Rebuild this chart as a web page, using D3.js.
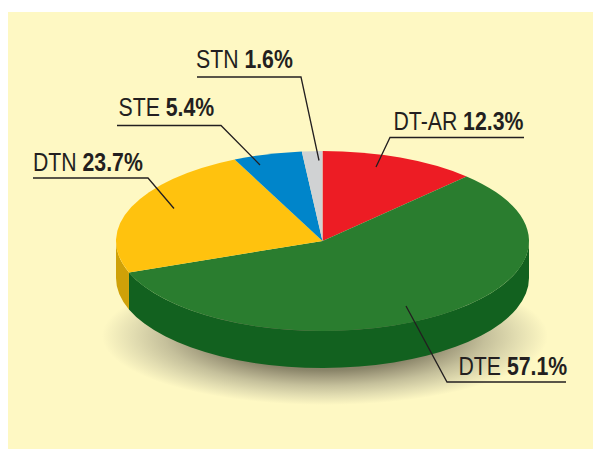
<!DOCTYPE html>
<html><head><meta charset="utf-8">
<style>html,body{margin:0;padding:0;background:#fff}svg{display:block}text{font-family:"Liberation Sans",sans-serif;fill:#231f20;font-size:25px}</style>
<script src="https://cdnjs.cloudflare.com/ajax/libs/d3/7.8.5/d3.min.js"></script>
</head><body><div id="c"></div>
<script>
const categories = ["DT-AR","DTE","DTN","STE","STN"];
const values = [12.3,57.1,23.7,5.4,1.6];
const valueLabels = ["12.3%","57.1%","23.7%","5.4%","1.6%"];
const topColors = ["#ed1c24","#2a7d2f","#ffc20e","#0085ca","#d0d2d3"];
const wallColors = ["#a8141a","#12611f","#cfa108","#005f91","#9a9c9e"];

// layout of hand-placed callouts: text position, then leader polyline
const callouts = [
 {t:[393.5,130],u:[[524,137.5],[390,137.5],[376,167]]},
 {t:[458.5,375],u:[[566,382],[447,382],[406,306]]},
 {t:[33,171],u:[[33,178],[148,178],[174,208.5]]},
 {t:[118.5,116],u:[[117,125.5],[221,125.5],[260,165]]},
 {t:[196,68],u:[[197,77],[301,77],[319,160.5]]}
];
const W=593,H=449,cx=322.5,cy=241,rx=206.5,ry=90,depth=37;
const svg=d3.select("#c").append("svg").attr("width",W).attr("height",H);
svg.append("rect").attr("x",8).attr("y",12).attr("width",W-8).attr("height",H-12).attr("fill","#fef8c3");

const defs=svg.append("defs");
const g=defs.append("radialGradient").attr("id","sh");
[[0,"#6b6650"],[0.5,"#8a8569"],[0.6,"#a6a081"],[0.72,"#c5c09b"],[0.86,"#e2ddb1"],[1,"#fef8c3"]]
 .forEach(s=>g.append("stop").attr("offset",s[0]).attr("stop-color",s[1]));
svg.append("ellipse").attr("cx",325).attr("cy",336).attr("rx",223).attr("ry",69).attr("fill","url(#sh)");

const pie=d3.pie().sort(null).value(d=>d)(values);
const k=rx/ry;
const scaled=svg.append("g").attr("transform",`translate(${cx},${cy}) scale(1,${ry/rx})`);
const arc=d3.arc().innerRadius(0).outerRadius(rx);

// front walls: only the part of a slice between 90 and 270 degrees is visible
scaled.selectAll("path.wall").data(pie.filter(d=>d.endAngle>Math.PI/2&&d.startAngle<Math.PI*1.5)).join("path")
 .attr("class","wall")
 .attr("fill",d=>wallColors[d.index])
 .attr("d",d=>{
  const a0=Math.max(d.startAngle,Math.PI/2)-Math.PI/2,a1=Math.min(d.endAngle,Math.PI*1.5)-Math.PI/2;
  const p=d3.path();
  p.moveTo(rx*Math.cos(a0),rx*Math.sin(a0));
  p.arc(0,0,rx,a0,a1,false);
  p.lineTo(rx*Math.cos(a1),rx*Math.sin(a1)+depth*k);
  p.arc(0,depth*k,rx,a1,a0,true);
  p.closePath();
  return p.toString();
 });
scaled.selectAll("path.top").data(pie).join("path").attr("class","top")
 .attr("fill",d=>topColors[d.index]).attr("d",arc);

const line=d3.line();
svg.selectAll("path.lead").data(callouts).join("path").attr("class","lead")
 .attr("d",d=>line(d.u)).attr("fill","none").attr("stroke","#231f20").attr("stroke-width",1.3);
const tx=svg.selectAll("text.lab").data(callouts).join("text").attr("class","lab")
 .attr("transform",d=>`translate(${d.t[0]},${d.t[1]}) scale(0.85,1)`);
tx.append("tspan").text((d,i)=>categories[i]+" ");
tx.append("tspan").attr("font-weight","bold").text((d,i)=>valueLabels[i]);
</script></body></html>
